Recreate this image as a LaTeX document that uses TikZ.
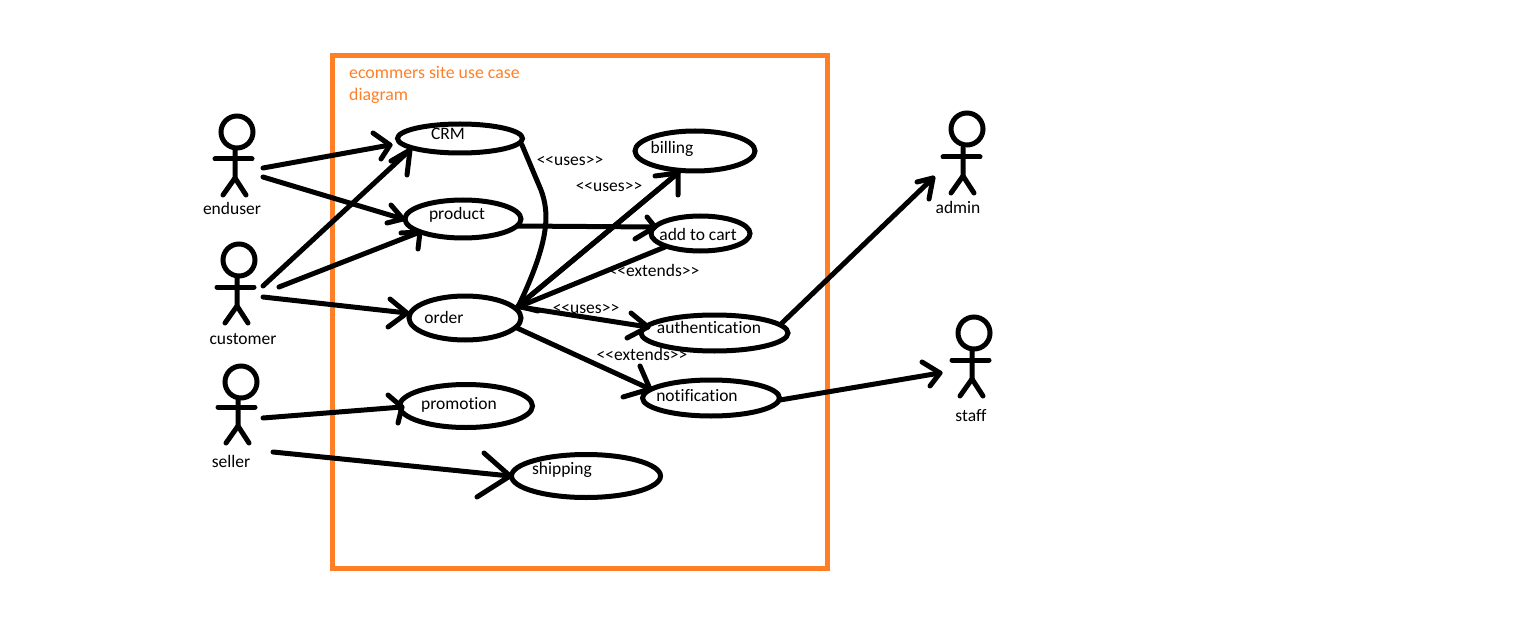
\documentclass[tikz,border=0pt]{standalone}
\usepackage{fontspec}
\setmainfont[Ligatures={NoCommon}]{Carlito}
\usetikzlibrary{shapes.geometric}
\definecolor{paintorange}{HTML}{FF7F27}
\tikzset{
  usecase/.style={draw=black,line width=5pt,shape=ellipse,inner sep=0pt,fill=none},
  lbl/.style={inner sep=0pt,font=\fontsize{17.5}{20}\selectfont,text=black},
  conn/.style={draw=black,line width=5pt,line cap=round,line join=round},
  limb/.style={draw=black,line width=5pt,line cap=round,line join=round},
  headshape/.style={draw=black,line width=5pt,shape=circle,inner sep=0pt,minimum size=32pt},
}
% actor: name, x, y of head, body offset dx, dy
\newcommand{\actorfig}[5]{%
  \node[headshape] (#1) at (#2,#3) {};
  \draw[limb] ([shift={(#4,18+#5)}]#1.center) -- ([shift={(#4,46+#5)}]#1.center) -- ++(-12,17);
  \draw[limb] ([shift={(#4,46+#5)}]#1.center) -- ++(11,17);
  \draw[limb] ([shift={(#4-20,27+#5)}]#1.center) -- ([shift={(#4+17,27+#5)}]#1.center);
}
% connector: from, offset, to, offset, barb, barb
\newcommand{\handconn}[6]{%
  \draw[conn] ([shift={(#2)}]#1.center) -- ([shift={(#4)}]#3.center);
  \draw[conn] ([shift={(#4)}]#3.center) ++(#5) -- ([shift={(#4)}]#3.center) -- ++(#6);
}
\begin{document}
\begin{tikzpicture}[x=1pt,y=-1pt]
\useasboundingbox (0,0) rectangle (1530,620);
\node[draw=paintorange,line width=5pt,inner sep=0pt,minimum width=495pt,minimum height=512.5pt] (sys) at (580,311.75) {};
\node[lbl,anchor=north west,align=left,text=paintorange,font=\fontsize{17.8}{22}\selectfont] (title) at (349,66) {ecommers site use case\\diagram};

\node[usecase,minimum width=125pt,minimum height=29pt] (crm) at (460,138.5) {};
\node[usecase,minimum width=116pt,minimum height=38pt] (product) at (463,219) {};
\node[usecase,minimum width=112pt,minimum height=44pt] (order) at (465,318) {};
\node[usecase,minimum width=120pt,minimum height=40pt] (billing) at (695,151) {};
\node[usecase,minimum width=99pt,minimum height=35pt] (cart) at (700.5,233.5) {};
\node[usecase,minimum width=147pt,minimum height=36pt] (auth) at (714.5,333) {};
\node[usecase,minimum width=137pt,minimum height=36pt] (notif) at (711,398) {};
\node[usecase,minimum width=133pt,minimum height=43pt] (promo) at (466,406) {};
\node[usecase,minimum width=149pt,minimum height=43pt] (ship) at (586,476) {};

\node[lbl] (tcrm) at (448,133.5) {CRM};
\node[lbl] (tproduct) at (457,215) {product};
\node[lbl] (torder) at (444,317.5) {order};
\node[lbl] (tbilling) at (672,149) {billing};
\node[lbl] (tcart) at (698,234.5) {add to cart};
\node[lbl] (tauth) at (709,327.5) {authentication};
\node[lbl] (tnotif) at (697,395.5) {notification};
\node[lbl] (tpromo) at (459,405) {promotion};
\node[lbl] (tship) at (562,470) {shipping};

\node[lbl] (u1) at (570,160.5) {<{}<uses>{}>};
\node[lbl] (u2) at (609,186.5) {<{}<uses>{}>};
\node[lbl] (u3) at (586,308.5) {<{}<uses>{}>};
\node[lbl] (e1) at (654,270.5) {<{}<extends>{}>};
\node[lbl] (e2) at (642,354.5) {<{}<extends>{}>};

\actorfig{enduser}{237}{132}{-2}{0}
\actorfig{customer}{239}{260}{-2}{0}
\actorfig{seller}{241}{382}{-3}{-2}
\actorfig{admin}{967}{129}{-4}{1}
\actorfig{staff}{974}{333}{-2}{0}

\node[lbl] (tenduser) at (232,208.5) {enduser};
\node[lbl] (tcustomer) at (243,339) {customer};
\node[lbl] (tseller) at (231,461.5) {seller};
\node[lbl] (tadmin) at (958,207.5) {admin};
\node[lbl] (tstaff) at (971,416) {staff};

\handconn{enduser}{26,36}{crm}{-70,6.5}{-17,-12}{-9,14}
\handconn{enduser}{26,45}{product}{-60,0}{-12,-14}{-16,4}
\handconn{customer}{24,26}{crm}{-50,11.5}{-19,11}{-3,25}
\handconn{customer}{40,27}{product}{-43,13}{-19,1}{-2,17}
\handconn{customer}{24,37}{order}{-58,-5}{-17,-14}{-19,14}
\handconn{seller}{22,36}{promo}{-64,1}{-14,-12}{-4,16}
\handconn{seller}{32,70}{ship}{-76,0}{-26,-23}{-33,21}
\handconn{billing}{-17,22}{order}{53,-12}{0,0}{20,5}
\handconn{order}{53,-12}{billing}{-17,22}{-23,3}{0,22}
\handconn{product}{55,7}{cart}{-45.5,-6.5}{-8,-10}{-20,12}
\handconn{order}{55,-11}{auth}{-66.5,-6}{-17,-14}{-21,11}
\handconn{order}{52,10}{notif}{-61,-9}{-10,-23}{-27,8}
\handconn{auth}{67.5,-10}{admin}{-34,49}{-16,4}{-4,21}
\handconn{notif}{69,2}{staff}{-34,40}{-18,-11}{-10,13}
\draw[conn] ([shift={(-35.5,13.5)}]cart.center) -- ([shift={(53,-11)}]order.center);
\draw[conn] ([shift={(62,6.5)}]crm.center) -- (541,190) .. controls (549,212) and (551,238) .. ([shift={(53,-11)}]order.center);
\end{tikzpicture}
\end{document}
